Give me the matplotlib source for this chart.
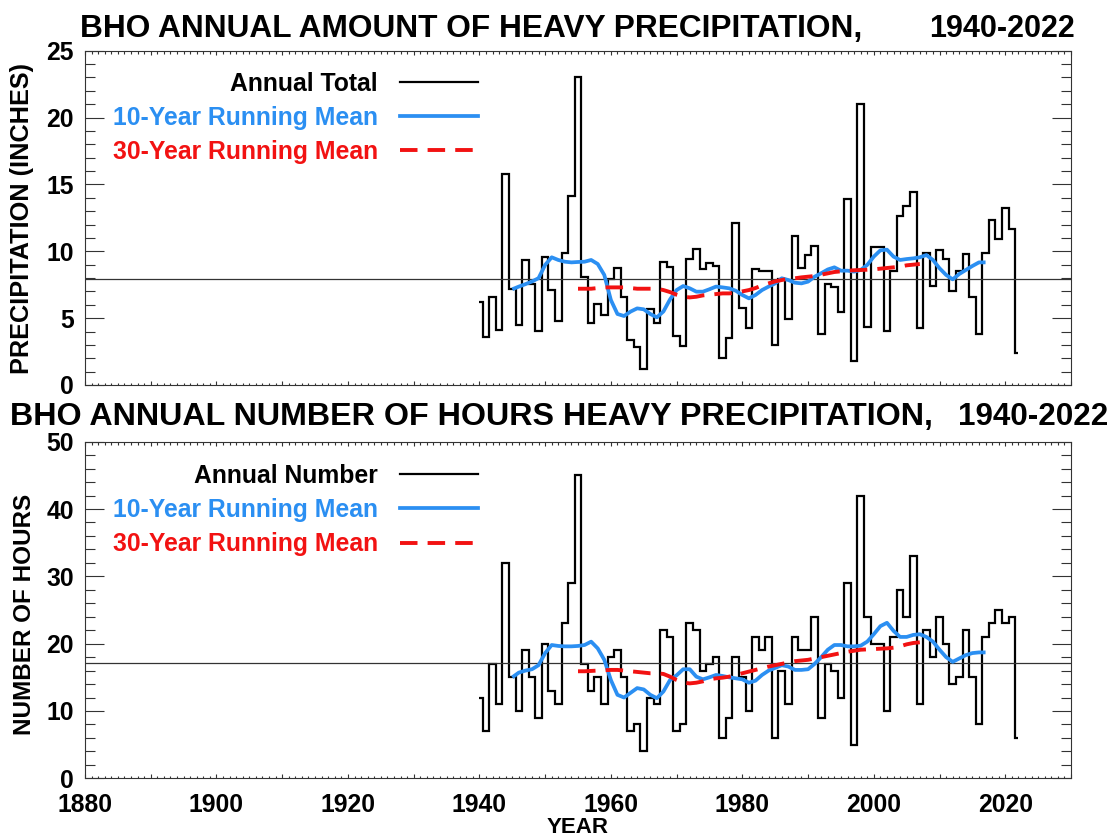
import numpy as np
import matplotlib
matplotlib.use("Agg")
import matplotlib.pyplot as plt
from matplotlib.ticker import MultipleLocator

plt.rcParams['font.family'] = ['Liberation Sans', 'DejaVu Sans']
plt.rcParams['font.weight'] = 'bold'

years = list(range(1940, 2023))

amount = [6.2, 3.6, 6.6, 4.1, 15.8, 7.2, 4.5, 9.35, 7.55, 4.05,
          9.6, 7.1, 4.75, 9.85, 14.1, 23.05, 8.1, 4.6, 6.05, 5.25,
          7.9, 8.75, 6.55, 3.35, 2.85, 1.2, 5.65, 4.6, 9.2, 8.8,
          3.7, 2.9, 9.45, 10.2, 8.65, 9.1, 8.9, 2.05, 3.5, 12.1,
          5.75, 4.3, 8.7, 8.55, 8.55, 3.0, 7.95, 4.9, 11.15, 8.75,
          9.7, 10.4, 3.8, 7.55, 7.35, 5.45, 13.9, 1.8, 21.05, 4.35,
          10.3, 10.3, 4.05, 8.5, 12.65, 13.35, 14.4, 4.25, 9.9, 7.4,
          10.1, 9.4, 7.05, 8.5, 9.8, 6.55, 3.8, 9.9, 12.35, 10.9,
          13.25, 11.7, 2.4]

hours = [12, 7, 17, 11, 32, 15, 10, 19, 15, 9,
         20, 13, 11, 23, 29, 45, 17, 13, 15, 11,
         18, 19, 15, 7, 8, 4, 12, 11, 22, 21,
         7, 8, 23, 22, 16, 17, 18, 6, 9, 18,
         15, 10, 21, 19, 21, 6, 16, 11, 21, 19,
         19, 24, 9, 17, 16, 12, 29, 5, 42, 24,
         20, 20, 10, 21, 28, 24, 33, 11, 22, 18,
         24, 20, 14, 15, 22, 15, 8, 21, 23, 25,
         23, 24, 6]

mean_amount = 7.95
mean_hours = 17.2

rm10_years = list(range(1945, 2018))
amount_rm10 = [7.16, 7.36, 7.54, 7.74, 7.99, 8.98, 9.55, 9.35, 9.22, 9.17,
               9.2, 9.22, 9.35, 9.05, 8.23, 6.36, 5.31, 5.16, 5.49, 5.73,
               5.66, 5.31, 5.06, 5.5, 6.4, 7.1, 7.4, 7.23, 6.98, 6.98,
               7.16, 7.36, 7.3, 7.23, 7.05, 6.73, 6.48, 6.73, 7.1, 7.36,
               7.6, 7.98, 7.85, 7.65, 7.6, 7.73, 8.1, 8.36, 8.64, 8.8,
               8.55, 8.55, 8.48, 8.6, 8.98, 9.6, 10.07, 10.12, 9.6, 9.35,
               9.42, 9.47, 9.55, 9.72, 9.35, 8.73, 8.23, 7.9, 8.3, 8.6,
               8.9, 9.17, 9.17]
hours_rm10 = [15.0, 15.7, 16.0, 16.2, 16.8, 18.6, 19.8, 19.66, 19.6, 19.6,
              19.66, 19.8, 20.3, 19.3, 17.6, 14.6, 12.4, 12.0, 12.7, 13.4,
              13.2, 12.4, 11.9, 12.9, 14.6, 15.3, 16.2, 16.2, 15.1, 14.7,
              15.0, 15.35, 15.2, 15.0, 14.85, 14.7, 14.2, 14.5, 15.35, 16.0,
              16.4, 16.8, 16.6, 16.1, 16.1, 16.2, 17.0, 18.0, 19.1, 19.8,
              19.8, 19.6, 19.6, 19.7, 20.3, 21.4, 22.6, 23.1, 21.9, 21.0,
              21.0, 21.3, 21.4, 21.0, 20.3, 19.1, 18.0, 17.3, 17.8, 18.3,
              18.6, 18.7, 18.7]

rm30_years = list(range(1955, 2008))
amount_rm30 = [7.2, 7.2, 7.2, 7.25, 7.3, 7.3, 7.3, 7.3, 7.25, 7.2,
               7.2, 7.2, 7.2, 7.1, 6.95, 6.75, 6.6, 6.55, 6.6, 6.7,
               6.75, 6.8, 6.85, 6.85, 6.9, 7.0, 7.1, 7.25, 7.45, 7.6,
               7.75, 7.85, 7.95, 7.98, 8.05, 8.1, 8.15, 8.25, 8.35, 8.45,
               8.5, 8.55, 8.58, 8.6, 8.62, 8.65, 8.7, 8.75, 8.8, 8.85,
               8.95, 9.0, 9.05]
hours_rm30 = [15.9, 15.9, 15.95, 16.0, 16.05, 16.1, 16.1, 16.0, 15.9, 15.8,
              15.7, 15.6, 15.6, 15.5, 15.1, 14.6, 14.2, 14.1, 14.2, 14.4,
              14.7, 14.85, 14.95, 15.1, 15.35, 15.6, 15.85, 16.1, 16.35, 16.6,
              16.8, 17.0, 17.2, 17.4, 17.5, 17.6, 17.8, 18.0, 18.2, 18.4,
              18.6, 18.8, 18.95, 19.1, 19.15, 19.2, 19.25, 19.3, 19.4, 19.6,
              19.9, 20.1, 20.2]

W, H = 1112, 838
fig = plt.figure(figsize=(W / 100, H / 100), dpi=100)

def px_axes(l, t, r, b):
    return fig.add_axes([l / W, 1 - b / H, (r - l) / W, (b - t) / H])

ax1 = px_axes(85, 50.7, 1071, 385)
ax2 = px_axes(85, 441.7, 1071, 778.3)

BLUE = '#2b8ff2'
RED = '#f21212'
FS = 17.8
DASH = (4.5, 2.6)

def draw(ax, vals, rm10, rm30, mean, ymax, ymaj, ymin):
    y = np.array(years, dtype=float)
    edges = np.concatenate([[y[0]], (y[:-1] + y[1:]) / 2, [y[-1]]])
    ax.stairs(vals, edges, baseline=None, color='black', lw=1.6)
    ax.axhline(mean, color='#333333', lw=0.9)
    ax.plot(rm10_years, rm10, color=BLUE, lw=2.7, solid_capstyle='butt')
    ax.plot(rm30_years, rm30, color=RED, lw=2.8, dashes=DASH)
    ax.set_xlim(1880, 2030)
    ax.set_ylim(0, ymax)
    ax.xaxis.set_major_locator(MultipleLocator(10))
    ax.xaxis.set_minor_locator(MultipleLocator(1))
    ax.yaxis.set_major_locator(MultipleLocator(ymaj))
    ax.yaxis.set_minor_locator(MultipleLocator(ymin))
    ax.tick_params(axis='both', which='both', direction='in', top=True, right=True,
                   color='#333333', width=0.8, labelsize=FS)
    ax.tick_params(axis='y', which='major', length=14, pad=8)
    ax.tick_params(axis='y', which='minor', length=7.5)
    ax.tick_params(axis='x', which='major', length=3.2, pad=10.5)
    ax.tick_params(axis='x', which='minor', length=1.8)
    for s in ax.spines.values():
        s.set_color('#333333')
        s.set_linewidth(0.8)

draw(ax1, amount, amount_rm10, amount_rm30, mean_amount, 25, 5, 1)
draw(ax2, hours, hours_rm10, hours_rm30, mean_hours, 50, 10, 2)

ax1.set_xticklabels([])
ax2.set_xticklabels(['' if int(v) % 20 else str(int(v)) for v in ax2.get_xticks()])

def legend(labels, baselines):
    cols = ['black', BLUE, RED]
    styles = [dict(lw=1.6), dict(lw=2.7), dict(lw=2.8, dashes=DASH)]
    for lab, c, st, yb in zip(labels, cols, styles, baselines):
        fig.text(378 / W, 1 - yb / H, lab, ha='right', va='baseline', color=c,
                 fontsize=FS, fontweight='bold')
        yl = yb - 8.5
        fig.add_artist(plt.Line2D([400 / W, 478 / W], [1 - yl / H, 1 - yl / H],
                                  color=c, transform=fig.transFigure, **st))

legend(['Annual Total', '10-Year Running Mean', '30-Year Running Mean'], [90.7, 124.5, 158.5])
legend(['Annual Number', '10-Year Running Mean', '30-Year Running Mean'], [482.5, 516.5, 551])

# titles
fig.text(80 / W, 1 - 36.7 / H, 'BHO ANNUAL AMOUNT OF HEAVY PRECIPITATION,', ha='left',
         va='baseline', fontsize=22.8, fontweight='bold')
fig.text(1075 / W, 1 - 36.7 / H, '1940-2022', ha='right', va='baseline', fontsize=22,
         fontweight='bold')
fig.text(10 / W, 1 - 425 / H, 'BHO ANNUAL NUMBER OF HOURS HEAVY PRECIPITATION,', ha='left',
         va='baseline', fontsize=23.2, fontweight='bold')
fig.text(1108 / W, 1 - 425 / H, '1940-2022', ha='right', va='baseline', fontsize=22.6,
         fontweight='bold')

fig.text(22 / W, 1 - 218 / H, 'PRECIPITATION (INCHES)', rotation=90, ha='center',
         va='center', fontsize=18.2, fontweight='bold')
fig.text(25 / W, 1 - 614 / H, 'NUMBER OF HOURS', rotation=90, ha='center',
         va='center', fontsize=17.5, fontweight='bold')
fig.text(578 / W, 1 - 833.3 / H, 'YEAR', ha='center', va='baseline', fontsize=16,
         fontweight='bold')

fig.savefig('out.png', dpi=100)
